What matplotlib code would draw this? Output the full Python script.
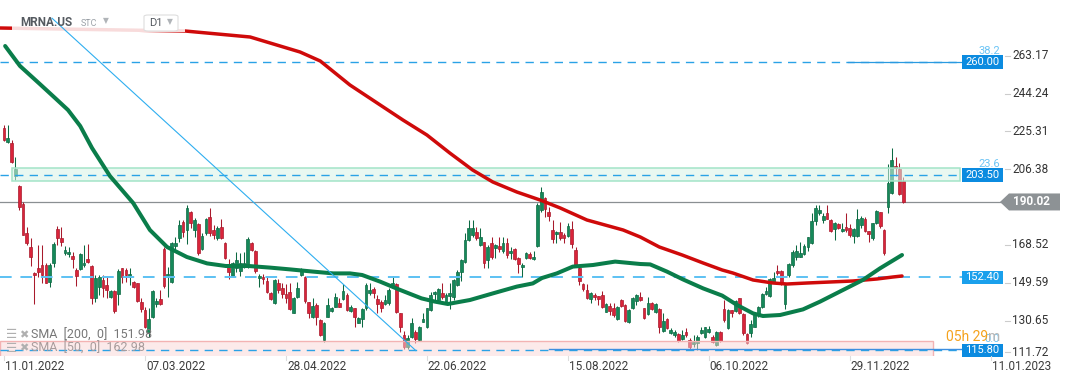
import numpy as np
import matplotlib
matplotlib.use("Agg")
import matplotlib.pyplot as plt
import matplotlib.transforms as mtransforms
from matplotlib.patches import Rectangle, Polygon, FancyBboxPatch

plt.rcParams['font.family'] = ['Roboto', 'DejaVu Sans']

# ---------------------------------------------------------------------------
# Data (daily candles, MRNA.US, Jan 2022 -> Dec 2022)
# ---------------------------------------------------------------------------
symbol = "MRNA.US"
date_labels = ["11.01.2022", "07.03.2022", "28.04.2022", "22.06.2022",
               "15.08.2022", "06.10.2022", "29.11.2022", "11.01.2023"]
date_bars = [0, 37, 74, 111, 148, 185, 222, 259]
price_labels = [263.17, 244.24, 225.31, 206.38, 168.52, 149.59, 130.65, 111.72]

opens = [
    226.8, 220.2, 219.7, 203.0, 198.0, 189.0, 174.3, 167.7, 154.7, 156.8,
    158.5, 158.5, 150.2, 159.7, 176.5, 171.8, 164.7, 163.8, 163.0, 156.0,
    156.3, 158.3, 161.5, 158.2, 142.2, 147.7, 151.0, 148.5, 142.7, 145.5,
    143.8, 156.8, 156.0, 152.7, 150.2, 149.3, 140.2, 136.0, 125.2, 132.7,
    139.0, 141.3, 166.3, 153.0, 149.8, 168.2, 171.8, 180.2, 176.0, 184.8,
    176.0, 178.8, 166.3, 174.3, 182.3, 176.0, 171.8, 177.7, 169.7, 157.3,
    153.0, 156.8, 155.7, 157.7, 157.7, 169.3, 165.7, 152.2, 152.7, 150.5,
    144.7, 139.3, 149.3, 146.8, 144.0, 145.2, 134.7, 142.7, 153.5, 152.7,
    139.8, 132.7, 138.5, 131.0, 121.0, 132.7, 135.5, 137.7, 139.3, 141.5,
    143.5, 135.7, 136.8, 129.7, 131.3, 136.8, 144.3, 146.3, 141.3, 140.2,
    139.0, 139.3, 147.7, 149.0, 134.3, 123.5, 117.7, 122.7, 125.2, 121.0,
    130.2, 127.7, 136.0, 143.8, 141.0, 144.3, 140.2, 143.0, 142.3, 148.5,
    155.2, 160.2, 171.0, 173.5, 175.2, 168.5, 169.8, 161.0, 169.3, 166.8,
    168.0, 165.5, 169.7, 164.3, 166.3, 161.8, 157.3, 161.8, 163.8, 161.3,
    168.0, 186.0, 191.8, 185.2, 176.0, 173.8, 174.8, 173.5, 173.0, 176.5,
    166.0, 156.8, 148.8, 146.0, 141.5, 143.5, 143.0, 143.5, 135.2, 138.2,
    136.8, 131.5, 141.0, 138.5, 129.8, 136.8, 140.7, 142.3, 136.8, 134.0,
    139.7, 134.8, 136.3, 125.7, 131.3, 124.3, 123.5, 123.8, 121.3, 125.0,
    121.0, 118.8, 119.7, 124.3, 122.3, 125.2, 122.7, 118.5, 124.8, 136.3,
    126.8, 136.0, 135.7, 141.8, 133.8, 123.8, 124.3, 127.7, 133.5, 137.3,
    144.0, 143.2, 150.2, 155.5, 155.7, 138.8, 153.5, 158.5, 162.7, 162.7,
    163.8, 167.7, 169.3, 180.7, 184.3, 181.0, 184.3, 181.0, 176.3, 178.8,
    175.5, 177.3, 176.8, 173.2, 173.2, 178.5, 181.3, 175.5, 171.8, 179.7,
    184.8, 176.0, 187.3, 194.7, 208.2, 206.3, 200.5,
]
highs = [
    228.5, 228.5, 221.0, 212.3, 198.5, 190.2, 177.3, 171.8, 155.2, 168.5,
    168.5, 159.3, 159.7, 170.2, 178.0, 177.7, 168.0, 167.7, 165.2, 156.8,
    164.7, 168.5, 169.0, 158.5, 153.5, 153.5, 153.5, 152.7, 146.0, 146.0,
    156.5, 157.2, 156.8, 156.8, 150.7, 149.3, 141.8, 137.7, 136.8, 146.0,
    141.8, 146.0, 167.7, 157.7, 170.2, 172.7, 181.0, 181.0, 188.5, 185.7,
    181.8, 179.3, 174.7, 182.2, 186.8, 178.5, 178.0, 181.3, 170.2, 161.3,
    160.2, 165.2, 164.3, 165.2, 172.7, 170.2, 166.0, 154.0, 154.0, 152.7,
    145.2, 151.3, 151.3, 149.3, 149.0, 149.7, 142.7, 150.2, 156.8, 153.0,
    140.2, 141.8, 139.3, 131.3, 130.2, 141.8, 137.7, 144.3, 141.8, 148.8,
    144.3, 138.5, 137.2, 132.3, 136.8, 149.7, 149.3, 147.7, 143.5, 141.0,
    143.5, 146.8, 153.0, 149.3, 134.7, 125.7, 123.5, 131.8, 126.0, 128.0,
    134.7, 137.2, 145.2, 145.7, 146.8, 149.7, 144.3, 149.3, 151.3, 156.0,
    161.3, 174.3, 181.0, 181.0, 177.3, 176.8, 170.2, 168.5, 172.7, 169.0,
    172.3, 172.3, 171.8, 167.7, 166.8, 162.7, 159.7, 165.2, 165.2, 165.7,
    189.3, 197.7, 192.3, 187.3, 181.0, 175.5, 180.2, 174.3, 179.7, 180.7,
    167.7, 158.2, 149.3, 149.0, 145.2, 144.7, 143.0, 145.5, 139.7, 139.7,
    139.7, 138.0, 141.5, 138.8, 136.3, 142.7, 144.0, 145.2, 137.2, 142.3,
    140.2, 139.7, 136.8, 134.7, 132.2, 126.8, 126.0, 124.3, 126.0, 126.8,
    121.8, 123.5, 123.5, 127.7, 127.7, 128.0, 123.5, 125.7, 125.7, 141.0,
    136.3, 136.0, 141.0, 142.2, 134.3, 124.3, 131.0, 135.2, 138.0, 144.7,
    147.7, 151.8, 155.2, 158.5, 156.0, 149.3, 159.7, 166.0, 168.5, 169.8,
    169.0, 172.7, 184.7, 188.5, 188.5, 184.3, 188.5, 181.3, 180.2, 179.3,
    179.3, 184.3, 179.0, 176.8, 186.3, 183.0, 182.7, 175.7, 179.7, 186.0,
    185.2, 176.3, 209.0, 216.8, 212.7, 209.3, 202.7,
]
lows = [
    220.7, 219.3, 209.7, 201.0, 186.0, 173.5, 168.5, 158.0, 138.8, 152.7,
    149.3, 149.3, 147.7, 157.7, 168.5, 168.0, 163.5, 162.7, 156.8, 148.2,
    156.0, 157.7, 159.3, 138.8, 139.8, 143.5, 142.7, 141.8, 141.8, 134.3,
    138.5, 149.3, 150.2, 148.5, 146.8, 140.2, 135.2, 126.8, 122.7, 131.8,
    137.7, 138.5, 146.8, 142.7, 149.3, 166.0, 170.2, 172.3, 169.0, 176.8,
    172.7, 163.5, 166.0, 173.5, 173.0, 171.3, 171.0, 171.3, 161.3, 151.3,
    152.7, 155.2, 153.0, 156.8, 156.8, 165.7, 154.7, 147.7, 149.0, 144.3,
    141.0, 139.0, 144.3, 141.8, 139.3, 136.0, 134.3, 141.8, 153.0, 139.3,
    131.8, 131.8, 128.5, 123.0, 120.2, 132.3, 135.2, 137.3, 137.3, 141.0,
    135.5, 135.2, 127.7, 129.3, 127.3, 136.0, 143.5, 141.8, 134.3, 135.2,
    138.3, 138.5, 146.8, 134.7, 125.2, 116.3, 116.3, 121.8, 119.3, 120.7,
    129.8, 126.8, 135.7, 141.0, 140.2, 141.3, 139.7, 136.3, 141.0, 148.0,
    150.7, 159.7, 170.7, 172.7, 171.0, 168.0, 156.8, 157.2, 161.3, 161.8,
    165.2, 164.7, 162.2, 161.3, 161.0, 154.3, 152.3, 161.3, 161.3, 161.0,
    167.3, 185.2, 182.7, 180.7, 169.7, 169.7, 171.0, 169.3, 172.7, 166.8,
    157.7, 148.5, 145.7, 141.5, 139.7, 141.0, 138.5, 136.8, 134.8, 133.5,
    132.7, 131.0, 137.7, 130.2, 129.3, 136.3, 138.5, 140.7, 131.3, 133.5,
    136.0, 134.3, 124.3, 125.2, 126.3, 123.8, 122.7, 120.2, 121.0, 122.7,
    116.0, 117.7, 116.0, 124.0, 121.8, 124.3, 119.3, 118.0, 120.2, 130.2,
    126.3, 132.3, 135.2, 134.0, 123.5, 119.0, 122.7, 127.3, 132.7, 136.8,
    143.5, 142.7, 149.3, 153.5, 148.5, 136.3, 152.7, 157.7, 161.0, 162.3,
    163.5, 165.7, 169.0, 178.5, 183.5, 179.7, 181.3, 175.2, 171.0, 176.3,
    175.2, 175.2, 172.7, 169.7, 172.7, 176.8, 175.2, 170.2, 171.0, 179.0,
    176.8, 163.5, 184.3, 194.0, 203.0, 193.5, 189.7,
]
closes = [
    221.0, 221.8, 210.2, 206.3, 187.7, 173.5, 169.3, 162.3, 153.3, 155.2,
    153.5, 149.7, 158.5, 169.0, 172.2, 170.2, 166.0, 165.2, 161.3, 153.2,
    164.0, 159.7, 160.2, 142.2, 152.2, 152.7, 146.8, 146.0, 145.5, 135.5,
    155.5, 152.7, 153.5, 153.8, 147.7, 140.5, 136.5, 127.7, 131.3, 145.5,
    140.7, 138.8, 148.2, 154.0, 169.3, 169.7, 178.5, 175.2, 186.8, 179.7,
    181.0, 164.7, 173.0, 181.5, 174.3, 173.5, 176.8, 171.8, 161.8, 155.2,
    159.3, 161.0, 159.3, 159.3, 171.3, 166.0, 155.7, 153.2, 151.3, 144.8,
    141.3, 151.0, 146.0, 143.8, 142.2, 136.3, 142.2, 146.8, 155.7, 140.5,
    134.3, 138.0, 132.7, 123.5, 129.3, 138.5, 137.2, 142.7, 137.7, 145.5,
    136.0, 137.7, 132.3, 131.8, 136.3, 148.5, 146.0, 144.3, 139.0, 136.8,
    141.0, 146.0, 149.7, 135.2, 127.3, 117.7, 121.8, 129.3, 121.3, 127.3,
    131.3, 136.8, 143.5, 145.2, 146.3, 142.3, 143.5, 144.3, 151.0, 155.2,
    161.0, 171.0, 176.8, 176.8, 172.2, 172.3, 159.3, 167.7, 162.7, 168.5,
    166.7, 169.7, 163.5, 165.7, 161.3, 159.0, 158.5, 164.7, 161.8, 162.7,
    188.5, 195.2, 186.3, 183.2, 171.3, 174.8, 171.8, 171.8, 178.0, 169.0,
    158.5, 150.5, 146.3, 141.8, 144.3, 142.3, 141.5, 137.3, 139.0, 135.7,
    133.5, 137.7, 138.2, 130.7, 136.0, 141.8, 143.5, 141.0, 131.8, 139.3,
    136.3, 139.0, 127.3, 130.5, 126.8, 126.0, 125.0, 120.7, 123.5, 123.5,
    117.7, 120.2, 122.7, 126.0, 127.3, 126.3, 120.2, 124.8, 120.7, 131.0,
    136.0, 134.7, 140.5, 134.3, 124.3, 119.7, 128.8, 134.7, 137.3, 144.0,
    145.7, 151.3, 151.8, 154.3, 149.3, 148.5, 159.0, 165.2, 165.7, 164.3,
    168.0, 172.3, 180.7, 186.8, 186.0, 183.0, 181.7, 175.7, 179.7, 176.8,
    176.3, 176.0, 173.5, 176.3, 181.3, 182.2, 175.7, 173.8, 179.3, 185.5,
    178.0, 164.7, 199.7, 211.0, 206.8, 194.0, 190.02,
]

# moving averages (bar index, value) as drawn on the chart
sma200_bar = [-1.0, 14.7, 47.5, 64.6, 77.7, 83.0, 90.8, 104.7, 111.0, 117.0,
              123.0, 128.3, 134.6, 140.7, 146.0, 153.0, 162.5, 167.0, 172.0,
              178.0, 183.5, 188.5, 191.3, 196.6, 201.8, 205.5, 210.8, 216.8,
              222.8, 229.1, 233.3, 235.7]
sma200_val = [277.0, 276.5, 275.5, 272.5, 265.0, 260.5, 248.5, 231.0, 223.5, 214.5,
              206.0, 200.0, 195.0, 191.0, 187.0, 181.0, 176.0, 172.5, 167.5,
              163.5, 159.5, 156.0, 154.5, 151.0, 149.5, 149.0, 149.5, 150.0,
              150.5, 151.5, 152.5, 153.0]
sma50_bar = [0.3, 4.2, 9.4, 13.4, 16.8, 20.0, 23.1, 27.8, 33.9, 38.3, 42.8,
             48.0, 53.3, 58.2, 64.2, 69.8, 75.1, 81.1, 86.4, 90.8, 94.0,
             98.7, 104.0, 109.6, 113.1, 116.5, 122.3, 128.3, 134.6, 138.8,
             141.2, 145.1, 149.3, 154.6, 160.4, 167.0, 169.6, 174.0, 178.2,
             183.5, 188.5, 192.4, 196.6, 199.2, 203.7, 209.7, 214.2, 220.2,
             225.4, 229.9, 235.7]
sma50_val = [268.0, 258.0, 249.0, 242.0, 236.0, 228.0, 217.0, 203.0, 189.5,
             176.0, 167.5, 162.5, 159.3, 158.0, 158.0, 157.2, 156.3, 155.2,
             154.3, 154.3, 153.5, 150.2, 146.0, 141.8, 140.2, 139.0, 141.0,
             144.3, 147.7, 149.3, 152.0, 154.3, 157.7, 158.5, 160.2, 159.0,
             158.8, 155.2, 151.3, 146.8, 143.2, 138.5, 134.3, 133.0, 133.5,
             136.3, 140.2, 146.0, 151.0, 156.8, 163.5]

levels = [260.00, 203.50, 152.40, 115.80]
fib_labels = {260.00: "38.2", 203.50: "23.6", 115.80: "0.0"}
last_price = 190.02
zone_upper = (200.65, 206.85)
zone_lower = (112.65, 120.50)
trend_bars = [12.6, 108.1]
trend_vals = [281.9, 115.7]
sma_legend = [("SMA  [200,  0]  151.98", "#777777"),
              ("SMA  [50,  0]  162.98", "#a89c9c")]


def main():
    W, H = 1072, 382
    step = 3.81            # pixels per bar
    x0 = 4.0               # pixel of bar 0
    plot_w, plot_h = 1003, 356

    fig = plt.figure(figsize=(W / 100, H / 100), dpi=100)
    fig.patch.set_facecolor('white')
    ax = fig.add_axes([0, (H - plot_h) / H, plot_w / W, plot_h / H])
    ax.set_xlim(-x0 / step, (plot_w - x0) / step)
    ax.set_ylim(113, 291)
    ax.axis('off')

    def fx(px):  # pixel -> figure fraction
        return px / W

    def fy(py):
        return 1 - py / H

    axx = mtransforms.blended_transform_factory(ax.transAxes, ax.transData)

    # --- candles -----------------------------------------------------------
    o = np.array(opens)
    h = np.array(highs)
    l = np.array(lows)
    c = np.array(closes)
    idx = np.arange(len(o))
    up = c >= o
    fill = np.where(up, '#15895a', '#d9243a')
    edge = np.where(up, '#0c6942', '#a81a2c')
    ax.vlines(idx, l, h, colors=edge, linewidth=0.75, zorder=3)
    ax.bar(idx, np.maximum(np.abs(c - o), 0.5), bottom=np.minimum(o, c),
           width=0.72, color=fill, edgecolor=edge, linewidth=0.5, zorder=4)

    # --- zones -----------------------------------------------------------
    ax.add_patch(Rectangle((12 / plot_w, zone_upper[0]), (960 - 12) / plot_w,
                           zone_upper[1] - zone_upper[0], transform=axx,
                           facecolor='#d8f3e7', edgecolor='none', alpha=0.55,
                           zorder=6))
    ax.add_patch(Rectangle((12 / plot_w, zone_upper[0]), (960 - 12) / plot_w,
                           zone_upper[1] - zone_upper[0], transform=axx,
                           facecolor='none', edgecolor='#a3e4c8', linewidth=1.1,
                           zorder=6))
    ax.add_patch(Rectangle((0, zone_lower[0]), 933 / plot_w,
                           zone_lower[1] - zone_lower[0], transform=axx,
                           facecolor='#fbd6d6', edgecolor='none', alpha=0.5,
                           zorder=6))
    ax.add_patch(Rectangle((0, zone_lower[0]), 933 / plot_w,
                           zone_lower[1] - zone_lower[0], transform=axx,
                           facecolor='none', edgecolor='#f3b3b3', linewidth=1.0,
                           zorder=6))

    # --- horizontal levels -----------------------------------------------
    box_l = 962 / plot_w
    for lv in levels:
        lw = 1.4 if lv == 152.40 else 1.0
        col = '#5cc1f3' if lv == 152.40 else '#2aa2e6'
        ax.plot([0, box_l], [lv, lv], transform=axx, color=col, linewidth=lw,
                dashes=(6, 4.5), zorder=7)
    ax.plot([848 / plot_w, box_l], [levels[0]] * 2, transform=axx,
            color='#2a9ae0', linewidth=0.9, zorder=7)
    ax.plot([549 / plot_w, 1.0], [levels[3] + 0.7] * 2, transform=axx,
            color='#3d8fe0', linewidth=1.0, zorder=7)

    # last price line
    ax.axhline(last_price, color='#8a8f92', linewidth=0.9, zorder=2)

    # --- moving averages -------------------------------------------------
    ax.plot(sma200_bar, sma200_val, color='#cf0a0a', linewidth=2.5,
            solid_capstyle='round', zorder=8)
    ax.plot(sma50_bar, sma50_val, color='#0a7d4a', linewidth=2.9,
            solid_capstyle='round', zorder=8)

    # header veil (fades the lines below the symbol box)
    ax.add_patch(Rectangle((fx(12), fy(32)), fx(185) - fx(12), fy(15) - fy(32),
                           transform=fig.transFigure, facecolor='white',
                           alpha=0.86, edgecolor='none', zorder=8.5,
                           clip_on=False))

    # trend line (drawn above the veil)
    ax.plot(trend_bars, trend_vals, color='#2eaef0', linewidth=0.8, zorder=9)

    # --- level boxes on the right ---------------------------------------
    for lv in levels:
        col = '#1aa0ec' if lv == 152.40 else '#0b8be0'
        ax.add_patch(Rectangle((box_l, lv - 3.3), 1 - box_l, 6.6, transform=axx,
                               facecolor=col, edgecolor='none', zorder=9,
                               clip_on=False))
        ax.text((box_l + 1) / 2, lv, f"{lv:.2f}", transform=axx, color='white',
                fontsize=8, ha='center', va='center', zorder=10, clip_on=False)
        if lv in fib_labels:
            ax.text(0.997, lv + 3.2, fib_labels[lv], transform=axx,
                    color='#6cc4f5', fontsize=8, ha='right', va='bottom',
                    zorder=8, clip_on=False)

    # --- right price scale ----------------------------------------------
    for p in price_labels:
        yp = max(p, 115.0)
        ax.plot([1005 / plot_w, 1010 / plot_w], [yp, yp], transform=axx,
                color='#cccccc', linewidth=0.8, clip_on=False)
        ax.text(1012 / plot_w, yp, f"{p:.2f}", transform=axx, color='#333333',
                fontsize=8.5, ha='left', va='center', clip_on=False)

    # last price tag
    ty = 62 + (260 - last_price) * 2.0
    tag = Polygon([(fx(1000), fy(ty)), (fx(1009), fy(ty - 8.5)),
                   (fx(1060), fy(ty - 8.5)), (fx(1060), fy(ty + 8.5)),
                   (fx(1009), fy(ty + 8.5))], closed=True,
                  transform=fig.transFigure, facecolor='#8d9295',
                  edgecolor='none')
    fig.patches.append(tag)
    fig.text(fx(1013), fy(ty), f"{last_price:.2f}", color='white',
             fontsize=8.5, fontweight='bold', ha='left', va='center')

    # --- date axis -------------------------------------------------------
    for b, lab in zip(date_bars, date_labels):
        px = x0 + b * step
        fig.text(fx(px + 1), fy(367), lab, color='#3c3c3c', fontsize=8.5,
                 ha='left', va='center')
        fig.lines.append(plt.Line2D([fx(px), fx(px)], [fy(356), fy(360)],
                                    transform=fig.transFigure,
                                    color='#dddddd', linewidth=0.8))

    # --- header ----------------------------------------------------------
    fig.text(fx(20), fy(23), symbol, color='#555a60', fontsize=8.5,
             fontweight='bold', ha='left', va='center')
    fig.text(fx(81), fy(23.5), "STC", color='#9aa0a6', fontsize=6.5,
             ha='left', va='center')
    fig.text(fx(103), fy(21), "\u25BC", color='#b0b4b8', fontsize=5.5,
             ha='left', va='center')
    fig.patches.append(FancyBboxPatch((fx(144), fy(31)), fx(178) - fx(144),
                                      fy(15) - fy(31),
                                      boxstyle="round,pad=0,rounding_size=0.004",
                                      transform=fig.transFigure,
                                      facecolor='white', edgecolor='#dedede',
                                      linewidth=0.8))
    fig.text(fx(149), fy(23.5), "D1", color='#555a60', fontsize=8,
             ha='left', va='center')
    fig.text(fx(167), fy(22), "\u25BC", color='#b0b4b8', fontsize=5.5,
             ha='left', va='center')

    # --- indicator legend (bottom left) ----------------------------------
    for k, (txt, col) in enumerate(sma_legend):
        yy = 335 + k * 13
        fig.text(fx(6), fy(yy), "\u2630", color='#b0b0b0', fontsize=9,
                 ha='left', va='center')
        fig.text(fx(19), fy(yy), "\u2716", color='#b0b0b0', fontsize=8,
                 ha='left', va='center')
        fig.text(fx(31), fy(yy + 0.5), txt, color=col, fontsize=9,
                 ha='left', va='center')

    # --- countdown -------------------------------------------------------
    t1 = fig.text(fx(946), fy(337), "05h 29", color='#f5a21c', fontsize=10,
                  ha='left', va='center')
    fig.canvas.draw()
    bb = t1.get_window_extent()
    fig.text(bb.x1 / W, fy(337), "m", color='#b8b8b8', fontsize=10,
             ha='left', va='center')

    fig.savefig('out.png', dpi=100)
    plt.close(fig)


if __name__ == "__main__":
    main()
